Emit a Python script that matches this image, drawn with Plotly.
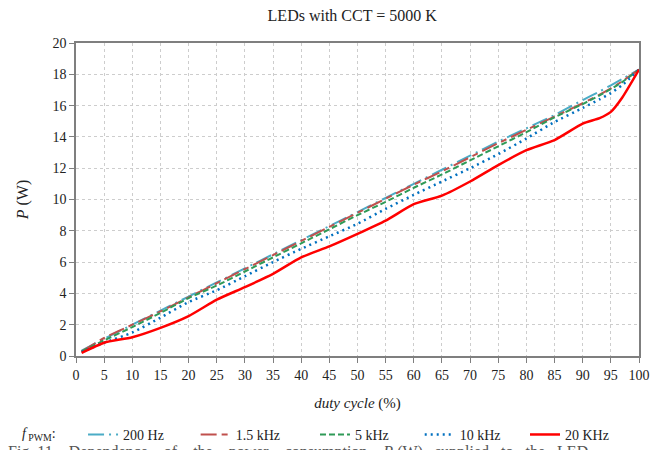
import plotly.graph_objects as go

duty = [1, 5, 10, 15, 20, 25, 30, 35, 40, 45, 50, 55, 60, 65, 70, 75, 80, 85, 90, 93, 95, 97, 100]

p_200hz = [0.35, 1.10, 2.00, 2.90, 3.80, 4.70, 5.60, 6.50, 7.40, 8.30, 9.20, 10.10, 11.00, 11.90, 12.80, 13.70, 14.55, 15.40, 16.35, 16.90, 17.30, 17.70, 18.30]
p_1_5khz = [0.30, 1.15, 2.00, 2.85, 3.75, 4.65, 5.55, 6.45, 7.35, 8.25, 9.15, 10.05, 10.95, 11.80, 12.70, 13.60, 14.45, 15.30, 16.15, 16.70, 17.10, 17.55, 18.30]
p_5khz = [0.30, 1.00, 1.85, 2.75, 3.70, 4.50, 5.40, 6.30, 7.20, 8.10, 9.00, 9.85, 10.75, 11.60, 12.50, 13.40, 14.30, 15.25, 16.10, 16.65, 17.05, 17.50, 18.30]
p_10khz = [0.25, 0.85, 1.50, 2.45, 3.45, 4.20, 5.10, 6.00, 6.85, 7.65, 8.45, 9.40, 10.30, 11.15, 12.00, 12.90, 13.90, 14.95, 15.85, 16.40, 16.80, 17.30, 18.30]
p_20khz = [0.20, 0.85, 1.20, 1.80, 2.55, 3.60, 4.40, 5.25, 6.30, 7.00, 7.80, 8.65, 9.70, 10.25, 11.15, 12.20, 13.15, 13.80, 14.85, 15.20, 15.60, 16.50, 18.30]

series_names = ["200 Hz", "1.5 kHz", "5 kHz", "10 kHz", "20 KHz"]
x_ticks = list(range(0, 101, 5))
y_ticks = list(range(0, 21, 2))

serif = "Liberation Serif"

styles = [
    dict(color="#4bacc6", width=2, dash="16px,5px,2px,5px"),
    dict(color="#c0504d", width=2, dash="16px,5px,6px,5px"),
    dict(color="#2f9a57", width=2, dash="6px,3px"),
    dict(color="#0070c0", width=2.5, dash="2px,4px"),
    dict(color="#ff0000", width=2.5, dash="solid"),
]
legend_ids = ["legend", "legend2", "legend3", "legend4", "legend5"]
legend_x = [0.0125, 0.2125, 0.4245, 0.6105, 0.7975]

fig = go.Figure()
for name, vals, st, lid in zip(series_names, [p_200hz, p_1_5khz, p_5khz, p_10khz, p_20khz], styles, legend_ids):
    fig.add_trace(go.Scatter(x=duty, y=vals, mode="lines", name=name, legend=lid,
                             line=dict(shape="spline", smoothing=0.6, **st)))

legend_common = dict(orientation="h", xanchor="left", y=-0.252, yanchor="middle",
                     font=dict(family=serif, size=14, color="#222"),
                     bgcolor="rgba(0,0,0,0)", itemwidth=30)
legends = {lid: dict(x=lx, **legend_common) for lid, lx in zip(legend_ids, legend_x)}

fig.update_layout(
    width=662, height=450,
    margin=dict(l=76, r=23, t=43, b=94, autoexpand=False),
    paper_bgcolor="white", plot_bgcolor="white",
    font=dict(family=serif, size=14, color="#222"),
    title=dict(text="LEDs with CCT = 5000 K", x=0.532, xanchor="center", y=0.965, yanchor="middle",
               font=dict(family=serif, size=16, color="#222")),
    showlegend=True,
    **legends,
)

fig.update_xaxes(range=[0, 100], tickvals=x_ticks, ticktext=[str(v) for v in x_ticks],
                 showgrid=True, gridcolor="#cdcdcd", griddash="dot", gridwidth=1,
                 showline=True, linecolor="#7f7f7f", linewidth=1.5, mirror=True,
                 ticks="outside", ticklen=5, tickcolor="#7f7f7f",
                 tickfont=dict(family=serif, size=14, color="#222"),
                 title=dict(text="<i>duty cycle</i> (%)", standoff=16,
                            font=dict(family=serif, size=15, color="#222")),
                 zeroline=False, automargin=False)
fig.update_yaxes(range=[0, 20], tickvals=y_ticks, ticktext=[str(v) for v in y_ticks],
                 showgrid=True, gridcolor="#cdcdcd", griddash="dot", gridwidth=1,
                 showline=True, linecolor="#7f7f7f", linewidth=1.5, mirror=True,
                 ticks="outside", ticklen=5, tickcolor="#7f7f7f",
                 tickfont=dict(family=serif, size=14, color="#222"),
                 title=dict(text="<i>P</i> (W)", standoff=20,
                            font=dict(family=serif, size=16, color="#222")),
                 zeroline=False, automargin=False)

fig.add_annotation(text="<i>f</i><sub> PWM</sub>:", xref="paper", yref="paper",
                   x=-0.0995, y=-0.252, xanchor="left", yanchor="middle", showarrow=False,
                   font=dict(family=serif, size=14, color="#222"))
fig.add_annotation(text="Fig. 11.&nbsp;&nbsp; Dependence &nbsp;&nbsp; of &nbsp;&nbsp; the &nbsp;&nbsp; power &nbsp;&nbsp; consumption &nbsp;&nbsp; <i>P</i> (W) &nbsp; supplied &nbsp; to &nbsp; the &nbsp; LED",
                   xref="paper", yref="paper", x=-0.125, y=-0.307, xanchor="left", yanchor="middle",
                   showarrow=False, font=dict(family=serif, size=16, color="#555"))

fig.write_html("out.html", config={"displayModeBar": False},
               post_script="document.body.style.margin='0';document.body.style.overflow='hidden';")
